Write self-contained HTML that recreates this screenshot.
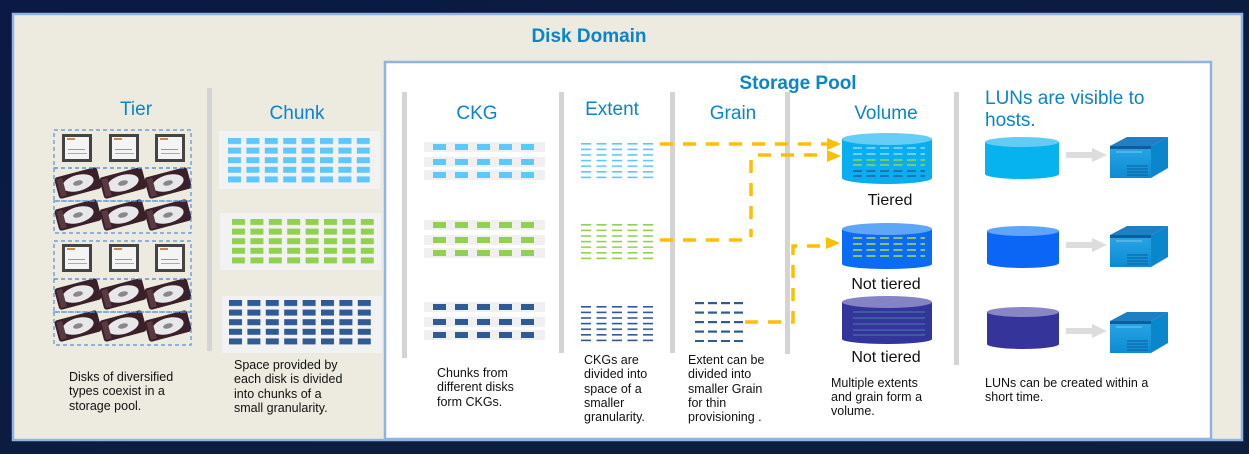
<!DOCTYPE html>
<html><head><meta charset="utf-8"><style>
html,body{margin:0;padding:0;background:#0b1a3a;}
svg{display:block}
text{font-family:"Liberation Sans",sans-serif;}
.t{fill:#0a84cc;font-size:19px;}
.c{fill:#111;font-size:12.5px;}
.v{fill:#111;font-size:16px;}
</style></head><body>
<svg width="1249" height="454" viewBox="0 0 1249 454" xmlns="http://www.w3.org/2000/svg">
<defs>
<linearGradient id="bg" x1="0" y1="0" x2="1" y2="1"><stop offset="0" stop-color="#0a1a44"/><stop offset="1" stop-color="#0d1f3c"/></linearGradient>
<pattern id="pb" x="228" y="138" width="18.4" height="9.6" patternUnits="userSpaceOnUse"><rect width="13" height="6" fill="#5ec8fb"/></pattern>
<pattern id="pg" x="232" y="219" width="18.4" height="9.6" patternUnits="userSpaceOnUse"><rect width="13" height="6" fill="#92d050"/></pattern>
<pattern id="pd" x="229" y="300" width="18.4" height="9.6" patternUnits="userSpaceOnUse"><rect width="13" height="6" fill="#2f5a93"/></pattern>
<pattern id="cb" x="433" y="0" width="22" height="100" patternUnits="userSpaceOnUse"><rect width="13" height="100" fill="#5ec8fb"/></pattern>
<pattern id="cg" x="433" y="0" width="22" height="100" patternUnits="userSpaceOnUse"><rect width="13" height="100" fill="#92d050"/></pattern>
<pattern id="cd" x="433" y="0" width="22" height="100" patternUnits="userSpaceOnUse"><rect width="13" height="100" fill="#2f5a93"/></pattern>
<pattern id="eb" x="581" y="143" width="15.5" height="5.6" patternUnits="userSpaceOnUse"><rect width="10" height="1.6" fill="#5ec8fb"/></pattern>
<pattern id="eg" x="581" y="224" width="15.5" height="5.6" patternUnits="userSpaceOnUse"><rect width="10" height="1.6" fill="#92d050"/></pattern>
<pattern id="ed" x="581" y="306" width="15.5" height="5.6" patternUnits="userSpaceOnUse"><rect width="10" height="1.6" fill="#2f5a93"/></pattern>
<pattern id="gr" x="695" y="302" width="13" height="9.5" patternUnits="userSpaceOnUse"><rect width="9" height="2.2" fill="#2f5a93"/></pattern>
<g id="ssdI"><rect x="0" y="0" width="30" height="28" fill="#444"/><rect x="3" y="3" width="24" height="22" fill="#f4f4f4"/><rect x="5" y="4" width="8" height="2" fill="#c9884e"/><rect x="6" y="15" width="17" height="1" fill="#999"/><rect x="6" y="19" width="19" height="1" fill="#aaa"/></g>
<g id="hddI"><g transform="translate(23,15) rotate(-15)"><rect x="-22" y="-11" width="44" height="22" rx="3" fill="#3a2028"/><ellipse cx="0" cy="0" rx="16" ry="8" fill="#e8e8ea"/><ellipse cx="0" cy="0" rx="5" ry="2.5" fill="#888"/><rect x="-20" y="-9" width="6" height="18" fill="#5a3a42"/></g></g>
<g id="ssdRow"><use href="#ssdI" x="62"/><use href="#ssdI" x="109"/><use href="#ssdI" x="155"/></g>
<g id="hddRow"><use href="#hddI" x="55"/><use href="#hddI" x="100"/><use href="#hddI" x="145"/></g>
<linearGradient id="srv" x1="0" y1="0" x2="0" y2="1"><stop offset="0" stop-color="#2aa6e6"/><stop offset="1" stop-color="#0c8bd2"/></linearGradient>
</defs>
<rect width="1249" height="454" fill="url(#bg)"/>
<rect x="13" y="14" width="1229" height="426" fill="#edeadf" stroke="#8fb4e3" stroke-width="2.5"/>
<text x="589" y="42" text-anchor="middle" style="fill:#0a84cc;font-size:19px;font-weight:bold">Disk Domain</text>
<rect x="385" y="62" width="826" height="377" fill="#fff" stroke="#8fb4e3" stroke-width="2.5"/>
<text x="798" y="89" text-anchor="middle" style="fill:#0a84cc;font-size:19px;font-weight:bold">Storage Pool</text>

<text x="120" y="115" class="t">Tier</text>
<use href="#ssdRow" y="134"/>
<use href="#ssdRow" y="244"/>
<use href="#hddRow" y="168"/>
<use href="#hddRow" y="200"/>
<use href="#hddRow" y="279"/>
<use href="#hddRow" y="311"/>
<g fill="none" stroke="#5a8fd6" stroke-width="1.2" stroke-dasharray="4,3">
<rect x="54" y="130" width="137" height="38"/><rect x="54" y="168" width="137" height="33"/><rect x="54" y="201" width="137" height="32"/>
<rect x="54" y="241" width="137" height="38"/><rect x="54" y="279" width="137" height="33"/><rect x="54" y="312" width="137" height="33"/>
</g>
<text class="c"><tspan x="69" y="381">Disks of diversified</tspan><tspan x="69" y="395">types coexist in a</tspan><tspan x="69" y="410">storage pool.</tspan></text>
<rect x="207" y="88" width="5" height="263" fill="#d4d4d4"/>

<text x="297" y="119" class="t" text-anchor="middle">Chunk</text>
<rect x="219" y="131" width="161" height="58" fill="#f2f2f2"/>
<rect x="220" y="213" width="161" height="57" fill="#f2f2f2"/>
<rect x="222" y="296" width="160" height="57" fill="#f2f2f2"/>
<rect x="228" y="138" width="142" height="45" fill="url(#pb)"/>
<rect x="232" y="219" width="142" height="45" fill="url(#pg)"/>
<rect x="229" y="300" width="142" height="45" fill="url(#pd)"/>
<text class="c"><tspan x="234" y="369">Space provided by</tspan><tspan x="234" y="383">each disk is divided</tspan><tspan x="234" y="398">into chunks of a</tspan><tspan x="234" y="412">small granularity.</tspan></text>

<g fill="#d4d4d4">
<rect x="402" y="92" width="5" height="266"/>
<rect x="559" y="92" width="5" height="261"/>
<rect x="670" y="92" width="5" height="261"/>
<rect x="785" y="92" width="5" height="262"/>
<rect x="954" y="92" width="5" height="273"/>
</g>

<text x="477" y="119" class="t" text-anchor="middle">CKG</text>
<g fill="#f0f0f0">
<rect x="424" y="142" width="121" height="10"/><rect x="424" y="157" width="121" height="10"/><rect x="424" y="170" width="121" height="10"/>
<rect x="424" y="220" width="121" height="10"/><rect x="424" y="235" width="121" height="10"/><rect x="424" y="248" width="121" height="10"/>
<rect x="424" y="302" width="121" height="10"/><rect x="424" y="317" width="121" height="10"/><rect x="424" y="330" width="121" height="10"/>
</g>
<g>
<rect x="433" y="144" width="101" height="6" fill="url(#cb)"/><rect x="433" y="159" width="101" height="6" fill="url(#cb)"/><rect x="433" y="172" width="101" height="6" fill="url(#cb)"/>
<rect x="433" y="222" width="101" height="6" fill="url(#cg)"/><rect x="433" y="237" width="101" height="6" fill="url(#cg)"/><rect x="433" y="250" width="101" height="6" fill="url(#cg)"/>
<rect x="433" y="304" width="101" height="6" fill="url(#cd)"/><rect x="433" y="319" width="101" height="6" fill="url(#cd)"/><rect x="433" y="332" width="101" height="6" fill="url(#cd)"/>
</g>
<text class="c"><tspan x="437" y="377">Chunks from</tspan><tspan x="437" y="391">different disks</tspan><tspan x="437" y="406">form CKGs.</tspan></text>

<text x="612" y="115" class="t" text-anchor="middle">Extent</text>
<rect x="581" y="143" width="72" height="36" fill="url(#eb)"/>
<rect x="581" y="224" width="72" height="36" fill="url(#eg)"/>
<rect x="581" y="306" width="72" height="36" fill="url(#ed)"/>
<text class="c"><tspan x="584" y="364">CKGs are</tspan><tspan x="584" y="378">divided into</tspan><tspan x="584" y="393">space of a</tspan><tspan x="584" y="407">smaller</tspan><tspan x="584" y="421">granularity.</tspan></text>

<text x="733" y="119" class="t" text-anchor="middle">Grain</text>
<rect x="695" y="302" width="52" height="40" fill="url(#gr)"/>
<text class="c"><tspan x="688" y="364">Extent can be</tspan><tspan x="688" y="378">divided into</tspan><tspan x="688" y="393">smaller Grain</tspan><tspan x="688" y="407">for thin</tspan><tspan x="688" y="421">provisioning .</tspan></text>

<g fill="none" stroke="#ffbf00" stroke-width="3.5" stroke-dasharray="13,10">
<path d="M660,144 H828"/>
<path d="M758,155 H828"/>
<path d="M751,160 V237"/>
<path d="M660,240 H746"/>
<path d="M745,322 H793 V246 H826"/>
</g>
<g fill="#ffbf00">
<path d="M827,138 L841,144 L827,150Z"/>
<path d="M827,150 L841,156 L827,162Z"/>
<path d="M826,237 L840,243 L826,249Z"/>
</g>

<text x="886" y="119" class="t" text-anchor="middle">Volume</text>
<g>
<path d="M842,139 V178 A45,6 0 0 0 932,178 V139Z" fill="#09aef0"/>
<ellipse cx="887" cy="139" rx="45" ry="6" fill="#65cdf6"/>
<g stroke-width="1.6" stroke-dasharray="9,4.5">
<path d="M853,148 H925 M853,154 H925" stroke="#8fd9fa"/>
<path d="M853,160 H925 M853,165 H925" stroke="#9bd34a"/>
<path d="M853,171 H925 M853,176 H925" stroke="#2f5a93"/>
</g>
</g>
<text x="890" y="205" class="v" text-anchor="middle">Tiered</text>
<g>
<path d="M842,229 V264 A45,5 0 0 0 932,264 V229Z" fill="#0a6bf4"/>
<ellipse cx="887" cy="229" rx="45" ry="6" fill="#5ea6f8"/>
<g stroke-width="1.6" stroke-dasharray="9,4.5" stroke="#b6de3e">
<path d="M853,238 H925 M853,244 H925 M853,250 H925 M853,256 H925"/>
</g>
</g>
<text x="886" y="289" class="v" text-anchor="middle">Not tiered</text>
<g>
<path d="M842,302 V339 A45,5 0 0 0 932,339 V302Z" fill="#33359a"/>
<ellipse cx="887" cy="302" rx="45" ry="6" fill="#8484c4"/>
<g stroke-width="1.2" stroke="#4a6fa8">
<path d="M853,312 H925 M853,318 H925 M853,324 H925 M853,330 H925 M853,335 H925"/>
</g>
</g>
<text x="886" y="362" class="v" text-anchor="middle">Not tiered</text>
<text class="c"><tspan x="831" y="387">Multiple extents</tspan><tspan x="831" y="401">and grain form a</tspan><tspan x="831" y="415">volume.</tspan></text>

<text class="t"><tspan x="985" y="104">LUNs are visible to</tspan><tspan x="985" y="126">hosts.</tspan></text>
<g>
<path d="M985,142 V174 A37,5 0 0 0 1059,174 V142Z" fill="#06b3ee"/><ellipse cx="1022" cy="142" rx="37" ry="5" fill="#62ccf5"/>
<path d="M987,231 V263 A36,5 0 0 0 1059,263 V231Z" fill="#0b66f5"/><ellipse cx="1023" cy="231" rx="36" ry="5" fill="#5fa4f9"/>
<path d="M987,312 V344 A36,5 0 0 0 1059,344 V312Z" fill="#34349a"/><ellipse cx="1023" cy="312" rx="36" ry="5" fill="#8886c4"/>
</g>
<g fill="#dcdcdc">
<path d="M1066,152 H1092 V148 L1107,155 L1092,162 V158 H1066Z"/>
<path d="M1066,242 H1092 V238 L1107,245 L1092,252 V248 H1066Z"/>
<path d="M1066,328 H1092 V324 L1107,331 L1092,338 V334 H1066Z"/>
</g>
<g id="s1">
<path d="M1110,146 L1127,137 L1168,137 L1151,146Z" fill="#1d7fc4"/>
<rect x="1110" y="146" width="41" height="32" fill="url(#srv)"/>
<path d="M1151,146 L1168,137 L1168,168 L1151,178Z" fill="#0a86cc"/>
<rect x="1110" y="146" width="41" height="3" fill="#0b5f9c"/>
<path d="M1116,152 H1142" stroke="#7cc7ef" stroke-width="1"/>
<g stroke="#0b5f9c" stroke-width="1"><path d="M1127,166 H1148 M1127,169 H1148 M1127,172 H1148 M1127,175 H1148"/></g>
</g>
<use href="#s1" transform="translate(0,89)"/>
<use href="#s1" transform="translate(0,175)"/>
<text class="c"><tspan x="985" y="387">LUNs can be created within a</tspan><tspan x="985" y="401">short time.</tspan></text>
</svg>
</body></html>
